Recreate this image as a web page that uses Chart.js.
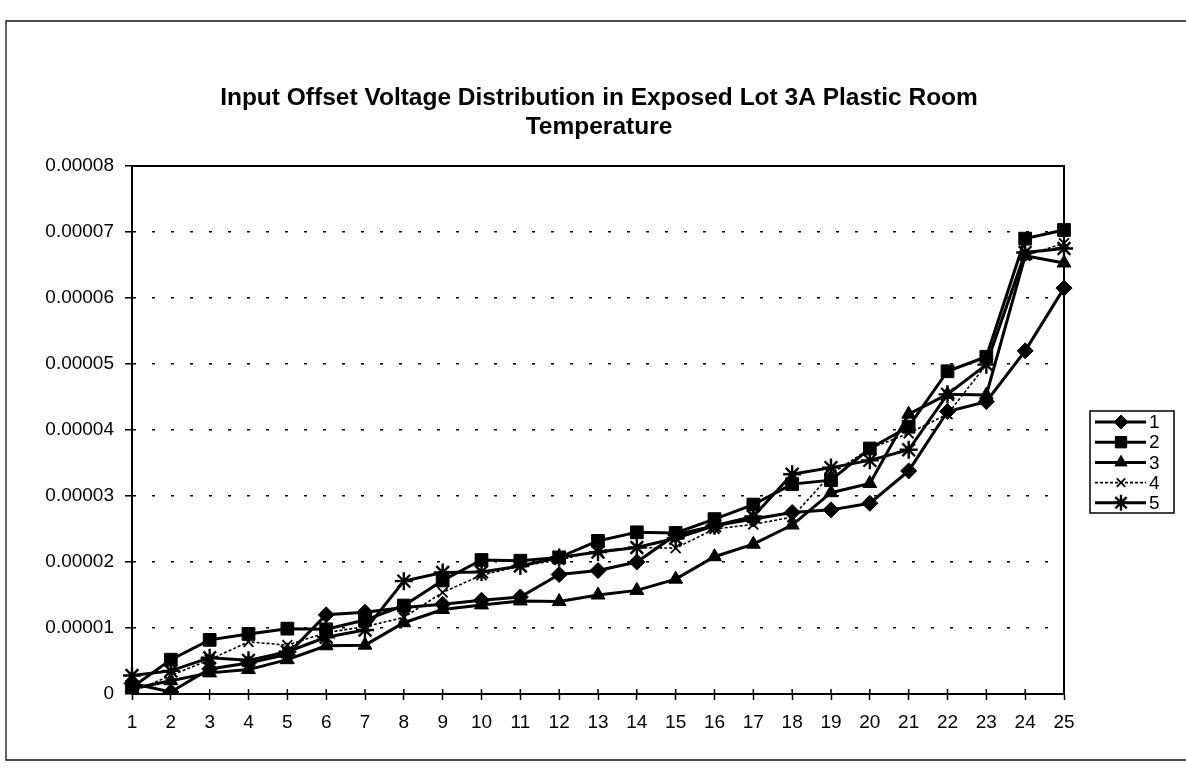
<!DOCTYPE html>
<html><head><meta charset="utf-8">
<script src="https://cdn.jsdelivr.net/npm/chart.js@4.4.0/dist/chart.umd.min.js"></script>
<style>html,body{margin:0;padding:0;background:#fff}#wrap{width:1186px;height:772px;position:relative}</style>
</head><body><div id="wrap"><canvas id="c" width="1186" height="772"></canvas></div>
<script>
const titleLines = ['Input Offset Voltage Distribution in Exposed Lot 3A Plastic Room', 'Temperature'];
const categories = ['1','2','3','4','5','6','7','8','9','10','11','12','13','14','15','16','17','18','19','20','21','22','23','24','25'];
const yTicks = [0, 0.00001, 0.00002, 0.00003, 0.00004, 0.00005, 0.00006, 0.00007, 0.00008];
const yTickLabels = ['0', '0.00001', '0.00002', '0.00003', '0.00004', '0.00005', '0.00006', '0.00007', '0.00008'];
const seriesNames = ['1', '2', '3', '4', '5'];
const series1 = [1.6e-6,0.3e-6,3.8e-6,4.7e-6,6.0e-6,12.0e-6,12.4e-6,13.1e-6,13.6e-6,14.2e-6,14.7e-6,18.1e-6,18.7e-6,20.0e-6,24.1e-6,25.5e-6,26.5e-6,27.5e-6,27.9e-6,28.9e-6,33.8e-6,42.8e-6,44.3e-6,52.0e-6,61.5e-6];
const series2 = [1.0e-6,5.2e-6,8.2e-6,9.1e-6,9.9e-6,9.8e-6,11.2e-6,13.4e-6,17.2e-6,20.3e-6,20.2e-6,20.7e-6,23.2e-6,24.5e-6,24.4e-6,26.5e-6,28.7e-6,31.8e-6,32.4e-6,37.2e-6,40.5e-6,48.9e-6,51.1e-6,69.0e-6,70.3e-6];
const series3 = [0.8e-6,2.0e-6,3.2e-6,3.7e-6,5.2e-6,7.3e-6,7.4e-6,10.8e-6,12.8e-6,13.5e-6,14.1e-6,14.0e-6,15.0e-6,15.7e-6,17.4e-6,20.8e-6,22.7e-6,25.6e-6,30.5e-6,31.9e-6,42.4e-6,45.4e-6,45.3e-6,66.4e-6,65.3e-6];
const series4 = [0.3e-6,2.8e-6,5.2e-6,7.9e-6,7.4e-6,9.3e-6,10.2e-6,11.6e-6,15.4e-6,18.0e-6,19.4e-6,20.3e-6,21.7e-6,22.2e-6,22.1e-6,25.0e-6,25.7e-6,26.8e-6,33.3e-6,37.2e-6,39.5e-6,42.4e-6,49.9e-6,66.4e-6,68.3e-6];
const series5 = [2.8e-6,3.5e-6,5.5e-6,5.1e-6,6.4e-6,8.6e-6,9.7e-6,17.1e-6,18.4e-6,18.5e-6,19.4e-6,20.7e-6,21.5e-6,22.2e-6,23.6e-6,25.5e-6,26.9e-6,33.3e-6,34.3e-6,35.4e-6,37.0e-6,45.4e-6,49.9e-6,66.9e-6,67.5e-6];

const FONT = "'Liberation Sans', Arial, Helvetica, sans-serif";
const styles = [
  {pointStyle: 'rectRot', pointRadius: 8, borderWidth: 3, borderDash: [], pointBorderWidth: 1},
  {pointStyle: 'rect', pointRadius: 9, borderWidth: 3, borderDash: [], pointBorderWidth: 1},
  {pointStyle: 'triangle', pointRadius: 8, borderWidth: 3, borderDash: [], pointBorderWidth: 1},
  {pointStyle: 'crossRot', pointRadius: 7, borderWidth: 1.6, borderDash: [3, 2], pointBorderWidth: 1.8},
  {pointStyle: 'star', pointRadius: 9, borderWidth: 3, borderDash: [], pointBorderWidth: 2.4}
];
const allSeries = [series1, series2, series3, series4, series5];
const datasets = allSeries.map((d, i) => ({
  label: seriesNames[i], data: d,
  borderColor: '#000', backgroundColor: '#000',
  pointBackgroundColor: '#000', pointBorderColor: '#000',
  borderWidth: styles[i].borderWidth, borderDash: styles[i].borderDash,
  pointStyle: styles[i].pointStyle, pointRadius: styles[i].pointRadius,
  pointBorderWidth: styles[i].pointBorderWidth, pointHoverRadius: styles[i].pointRadius,
  tension: 0, fill: false
}));

const framePlugin = {
  id: 'frame',
  beforeDraw(chart) {
    const ctx = chart.ctx;
    ctx.save();
    ctx.fillStyle = '#fff';
    ctx.fillRect(0, 0, chart.width, chart.height);
    ctx.strokeStyle = '#111';
    ctx.lineWidth = 1.3;
    ctx.beginPath();
    ctx.moveTo(1190, 21); ctx.lineTo(6, 21); ctx.lineTo(6, 760); ctx.lineTo(1190, 760);
    ctx.stroke();
    ctx.fillStyle = '#000';
    ctx.font = 'bold 24.5px ' + FONT;
    ctx.textAlign = 'center';
    ctx.textBaseline = 'middle';
    ctx.fillText(titleLines[0], 599, 98);
    ctx.fillText(titleLines[1], 599, 127);
    ctx.restore();
  },
  afterDatasetsDraw(chart) {
    const ctx = chart.ctx, a = chart.chartArea;
    ctx.save();
    ctx.strokeStyle = '#000';
    ctx.lineWidth = 2;
    ctx.strokeRect(a.left, a.top, a.right - a.left, a.bottom - a.top);
    const xs = chart.scales.x;
    ctx.lineWidth = 1.5;
    ctx.beginPath();
    for (let i = 0; i < categories.length; i++) {
      const px = xs.getPixelForTick(i);
      ctx.moveTo(px, a.bottom); ctx.lineTo(px, a.bottom - 5);
    }
    ctx.stroke();
    const lx = 1090, ly = 411, lw = 84, lh = 102;
    ctx.fillStyle = '#fff';
    ctx.fillRect(lx, ly, lw, lh);
    ctx.lineWidth = 1.5;
    ctx.strokeRect(lx, ly, lw, lh);
    ctx.font = '19px ' + FONT;
    ctx.textAlign = 'left';
    ctx.textBaseline = 'middle';
    for (let i = 0; i < datasets.length; i++) {
      const y = ly + 11 + i * 20.2;
      const ds = datasets[i];
      ctx.strokeStyle = '#000';
      ctx.lineWidth = ds.borderWidth;
      ctx.setLineDash(ds.borderDash);
      ctx.beginPath(); ctx.moveTo(lx + 5, y); ctx.lineTo(lx + 56, y); ctx.stroke();
      ctx.setLineDash([]);
      ctx.fillStyle = '#000';
      ctx.lineWidth = ds.pointBorderWidth;
      Chart.helpers.drawPoint(ctx, {pointStyle: ds.pointStyle, radius: ds.pointRadius - 1, rotation: 0, borderWidth: ds.pointBorderWidth}, lx + 31, y);
      ctx.fillStyle = '#000';
      ctx.fillText(ds.label, lx + 59, y + 1);
    }
    ctx.restore();
  }
};

new Chart(document.getElementById('c'), {
  type: 'line',
  data: {labels: categories, datasets: datasets},
  options: {
    responsive: false, animation: false, devicePixelRatio: 1,
    layout: {padding: {left: 0, right: 122, top: 166, bottom: 0}},
    plugins: {legend: {display: false}, title: {display: false}, tooltip: {enabled: false}},
    scales: {
      x: {
        type: 'category', offset: false,
        grid: {display: true, drawOnChartArea: false, drawTicks: true, tickLength: 6, tickColor: '#000', tickWidth: 1.5},
        border: {display: true, color: '#000', width: 2},
        ticks: {color: '#000', font: {family: FONT, size: 19}, padding: 11, maxRotation: 0, autoSkip: false},
        afterFit(s) { s.height = 78; }
      },
      y: {
        min: 0, max: 0.00008,
        afterBuildTicks(s) { s.ticks = yTicks.map(v => ({value: v})); },
        grid: {
          display: true, drawOnChartArea: true, drawTicks: true, tickLength: 7,
          color: (c) => (c.tick && (c.tick.value === 0 || c.tick.value === 0.00008)) ? 'rgba(0,0,0,0)' : '#000',
          lineWidth: 1.6, tickColor: '#000', tickWidth: 1.5, tickBorderDash: []
        },
        border: {display: true, color: '#000', width: 2, dash: [3, 16]},
        ticks: {color: '#000', font: {family: FONT, size: 19}, padding: 11,
          callback: (v, i) => yTickLabels[i]},
        afterFit(s) { s.width = 132; }
      }
    }
  },
  plugins: [framePlugin]
});
</script></body></html>
